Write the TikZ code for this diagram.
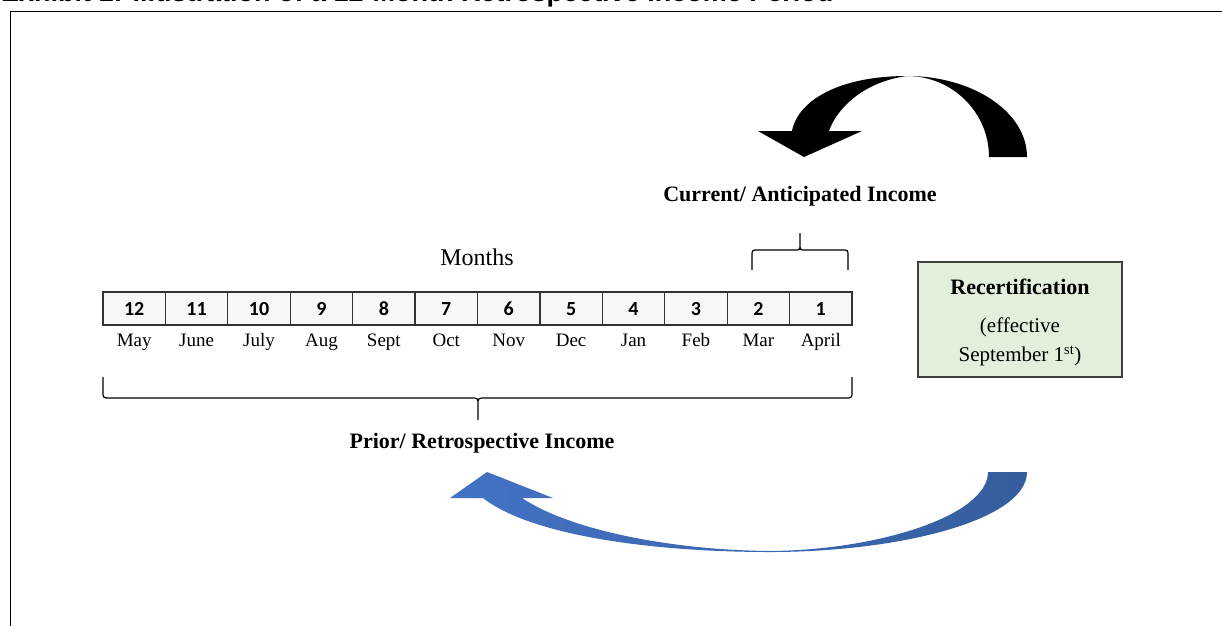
\documentclass[tikz,border=0pt]{standalone}
\usepackage{fontspec}
\setmainfont{Liberation Serif}
\newfontfamily\numfont{Carlito}
\newfontfamily\titlefont{Liberation Sans}
\usetikzlibrary{positioning}
\definecolor{cellfill}{HTML}{F7F7F7}
\definecolor{cellline}{HTML}{333333}
\definecolor{recfill}{HTML}{E2EFDA}
\definecolor{recline}{HTML}{404040}
\definecolor{blueL}{HTML}{4472C4}
\definecolor{blueR}{HTML}{355E9E}
\tikzset{
  cell/.style={draw=cellline, line width=1.2pt, fill=cellfill, minimum width=62.417pt, minimum height=33pt, inner sep=0pt, text height=13.5pt, text depth=0pt, font=\numfont\bfseries\fontsize{20}{22}\selectfont},
  monthlbl/.style={inner sep=0pt, anchor=base, font=\fontsize{19}{22}\selectfont},
  heading/.style={inner sep=0pt, font=\bfseries\fontsize{22}{26}\selectfont},
  bracepath/.style={draw=black, line width=1.2pt, line join=round},
  recbox/.style={draw=recline, line width=1.5pt, fill=recfill, minimum width=204pt, minimum height=115pt, inner sep=0pt},
}
\begin{document}
\begin{tikzpicture}[x=1pt,y=-1pt]
\useasboundingbox (0,0) rectangle (1222,625);
% title (cut off at top, as in the reference)
\node[anchor=base west, inner sep=0pt, font=\titlefont\bfseries\fontsize{27}{30}\selectfont] (title) at (1,1.5) {Exhibit 1: Illustration of a 12-Month Retrospective Income Period};
% frame
\draw[line width=1.7pt] (10.5,640) -- (10.5,11.5) -- (1240,11.5);
% cells
\foreach \n/\m [count=\i] in {12/May,11/June,10/July,9/Aug,8/Sept,7/Oct,6/Nov,5/Dec,4/Jan,3/Feb,2/Mar,1/April}{
  \node[cell] (c\i) at ({103+62.417*(\i-0.5)},308.5) {\n};
  \node[monthlbl] (m\i) at ({103+62.417*(\i-0.5)},346) {\m};
}
\node[inner sep=0pt, font=\fontsize{24}{28}\selectfont] (months) at (477,257) {Months};
% current brace
\coordinate (cb1) at (752,270);
\coordinate (cb2) at (848,270);
\draw[bracepath] (cb1) -- (752,256) .. controls (752,250) .. (758,250) -- (794,250) .. controls (800,250) .. (800,244) -- (800,233)
  (800,244) .. controls (800,250) .. (806,250) -- (842,250) .. controls (848,250) .. (848,256) -- (cb2);
\node[heading] (current) at (800,196) {Current/ Anticipated Income};
% prior brace
\coordinate (pb1) at (103,377);
\coordinate (pb2) at (852,377);
\draw[bracepath] (pb1) -- (103,391) .. controls (103,398) .. (110,398) -- (471,398) .. controls (478,398) .. (478,405) -- (478,420)
  (478,405) .. controls (478,398) .. (485,398) -- (845,398) .. controls (852,398) .. (852,391) -- (pb2);
\node[heading] (prior) at (482,443) {Prior/ Retrospective Income};
% recertification box
\node[recbox] (rec) at (1020,319.5) {};
\node[heading] (rectitle) at (1020,287) {Recertification};
\node[inner sep=0pt, font=\fontsize{21}{25}\selectfont] (eff1) at (1020,327) {(effective};
\node[inner sep=0pt, font=\fontsize{21}{25}\selectfont] (eff2) at (1020,356) {September 1\textsuperscript{st})};
% black curved arrow
\fill[black] (1027,157) .. controls (1027,112) and (973,76) .. (907,76)
  .. controls (840,76) and (798,100) .. (792,131)
  -- (758,131) -- (804,157) -- (862,131) -- (829,131)
  .. controls (836,110) and (862,82) .. (907,76)
  .. controls (952,76) and (989,112) .. (989,157) -- cycle;
% blue curved arrow
\shade[left color=blueL, right color=blueR, shading angle=90]
  (1027,472) .. controls (1027,520) and (900,552) .. (770,552)
  .. controls (650,552) and (530,535) .. (483,498)
  -- (450,498) -- (487,472) -- (553,498) -- (522,498)
  .. controls (570,530) and (670,550) .. (770,551)
  .. controls (880,550) and (988,515) .. (988,472) -- cycle;
\end{tikzpicture}
\end{document}
